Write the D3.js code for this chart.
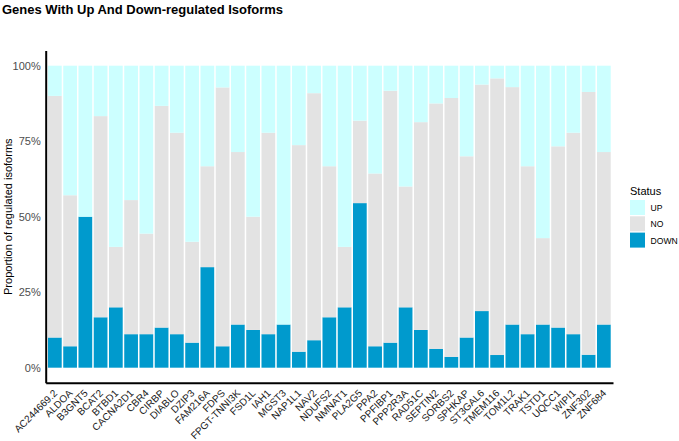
<!DOCTYPE html>
<html>
<head>
<meta charset="utf-8">
<script src="https://cdn.jsdelivr.net/npm/d3@7"></script>
<style>
  body { margin: 0; background: #fff; }
  svg { font-family: "Liberation Sans", Arial, sans-serif; }
</style>
</head>
<body>
<div id="container"></div>
<script>
// DATA
const genes = ["AC244669.2", "ALDOA", "B3GNT5", "BCAT2", "BTBD1", "CACNA2D1", "CBR4", "CIRBP",
  "DIABLO", "DZIP3", "FAM216A", "FDPS", "FPGT-TNNI3K", "FSD1L", "IAH1", "MGST3", "NAP1L1",
  "NAV2", "NDUFS2", "NMNAT1", "PLA2G5", "PPA2", "PPFIBP1", "PPP2R3A", "RAD51C", "SEPTIN2",
  "SORBS2", "SPHKAP", "ST3GAL6", "TMEM116", "TOM1L2", "TRAK1", "TSTD1", "UQCC1", "WIPI1",
  "ZNF302", "ZNF684"];

const downVals = [0.100, 0.071, 0.500, 0.167, 0.200, 0.111, 0.111, 0.133, 0.111, 0.083, 0.333,
  0.071, 0.143, 0.125, 0.111, 0.143, 0.053, 0.091, 0.167, 0.200, 0.545, 0.071, 0.083, 0.200,
  0.125, 0.0625, 0.036, 0.100, 0.1875, 0.042, 0.143, 0.111, 0.143, 0.133, 0.111, 0.043, 0.143];

const noVals = [0.800, 0.500, 0.000, 0.666, 0.200, 0.444, 0.333, 0.734, 0.667, 0.334, 0.334,
  0.857, 0.571, 0.375, 0.667, 0.000, 0.684, 0.818, 0.500, 0.200, 0.273, 0.572, 0.834, 0.400,
  0.688, 0.8125, 0.857, 0.600, 0.750, 0.916, 0.786, 0.556, 0.286, 0.600, 0.667, 0.870, 0.571];

const upVals = [0.100, 0.429, 0.500, 0.167, 0.600, 0.445, 0.556, 0.133, 0.222, 0.583, 0.333,
  0.072, 0.286, 0.500, 0.222, 0.857, 0.263, 0.091, 0.333, 0.600, 0.182, 0.357, 0.083, 0.400,
  0.187, 0.125, 0.107, 0.300, 0.0625, 0.042, 0.071, 0.333, 0.571, 0.267, 0.222, 0.087, 0.286];

const statusKeys = ["DOWN", "NO", "UP"];
const yTicks = [0, 0.25, 0.5, 0.75, 1];
const colors = { UP: "#CCFFFF", NO: "#E3E3E3", DOWN: "#009ACD" };

// CONSTANTS
const width = 679, height = 441;
const panel = { left: 45.7, right: 613, top: 50.6, bottom: 382.8 };

const rows = genes.map((g, i) => ({ gene: g, DOWN: downVals[i], NO: noVals[i], UP: upVals[i] }));
const series = d3.stack().keys(statusKeys)(rows);

// SCALES
const xScale = d3.scaleBand()
  .domain(genes)
  .range([panel.left, panel.right])
  .paddingInner(0.1)
  .paddingOuter(0.15);

const yScale = d3.scaleLinear()
  .domain([-0.05, 1.05])
  .range([panel.bottom, panel.top]);

const svg = d3.select("#container")
  .append("svg")
  .attr("width", width)
  .attr("height", height);

// TITLE
svg.append("text")
  .attr("x", 2)
  .attr("y", 14)
  .attr("font-size", 13)
  .attr("font-weight", "bold")
  .attr("fill", "#000")
  .text("Genes With Up And Down-regulated Isoforms");

// BARS
svg.append("g")
  .selectAll("g")
  .data(series)
  .join("g")
  .attr("fill", d => colors[d.key])
  .selectAll("rect")
  .data(d => d)
  .join("rect")
  .attr("x", d => xScale(d.data.gene))
  .attr("width", xScale.bandwidth())
  .attr("y", d => yScale(d[1]))
  .attr("height", d => yScale(d[0]) - yScale(d[1]));

// AXES
const yAxis = d3.axisLeft(yScale)
  .tickValues(yTicks)
  .tickSize(0)
  .tickPadding(5)
  .tickFormat(d3.format(".0%"));

const yAxisGroup = svg.append("g")
  .attr("transform", `translate(${panel.left}, 0)`)
  .call(yAxis);
yAxisGroup.select(".domain").attr("stroke", "#000").attr("stroke-width", 2);
yAxisGroup.selectAll("text")
  .attr("font-size", 11)
  .attr("fill", "#4D4D4D")
  .attr("font-family", "Liberation Sans, Arial, sans-serif");

const xAxis = d3.axisBottom(xScale).tickSize(0);
const xAxisGroup = svg.append("g")
  .attr("transform", `translate(0, ${panel.bottom})`)
  .call(xAxis);
xAxisGroup.select(".domain").attr("stroke", "#000").attr("stroke-width", 2);
xAxisGroup.selectAll("text")
  .attr("font-size", 10)
  .attr("fill", "#1a1a1a")
  .attr("font-family", "Liberation Sans, Arial, sans-serif")
  .attr("text-anchor", "end")
  .attr("dy", null)
  .attr("y", 0)
  .attr("transform", "translate(3, 11) rotate(-45)");

// Y AXIS TITLE
svg.append("text")
  .attr("transform", `translate(12, ${(panel.top + panel.bottom) / 2}) rotate(-90)`)
  .attr("text-anchor", "middle")
  .attr("font-size", 11)
  .attr("fill", "#000")
  .text("Proportion of regulated isoforms");

// LEGEND
const legend = svg.append("g").attr("transform", "translate(630, 0)");
legend.append("text")
  .attr("x", 0)
  .attr("y", 195)
  .attr("font-size", 11)
  .text("Status");

const legendKeys = ["UP", "NO", "DOWN"];
legend.selectAll("rect")
  .data(legendKeys)
  .join("rect")
  .attr("x", 0)
  .attr("y", (d, i) => 200 + i * 16.3)
  .attr("width", 15)
  .attr("height", 15)
  .attr("fill", d => colors[d]);

legend.selectAll("text.lab")
  .data(legendKeys)
  .join("text")
  .attr("class", "lab")
  .attr("x", 20.5)
  .attr("y", (d, i) => 200 + i * 16.3 + 11)
  .attr("font-size", 8.6)
  .text(d => d);
</script>
</body>
</html>
